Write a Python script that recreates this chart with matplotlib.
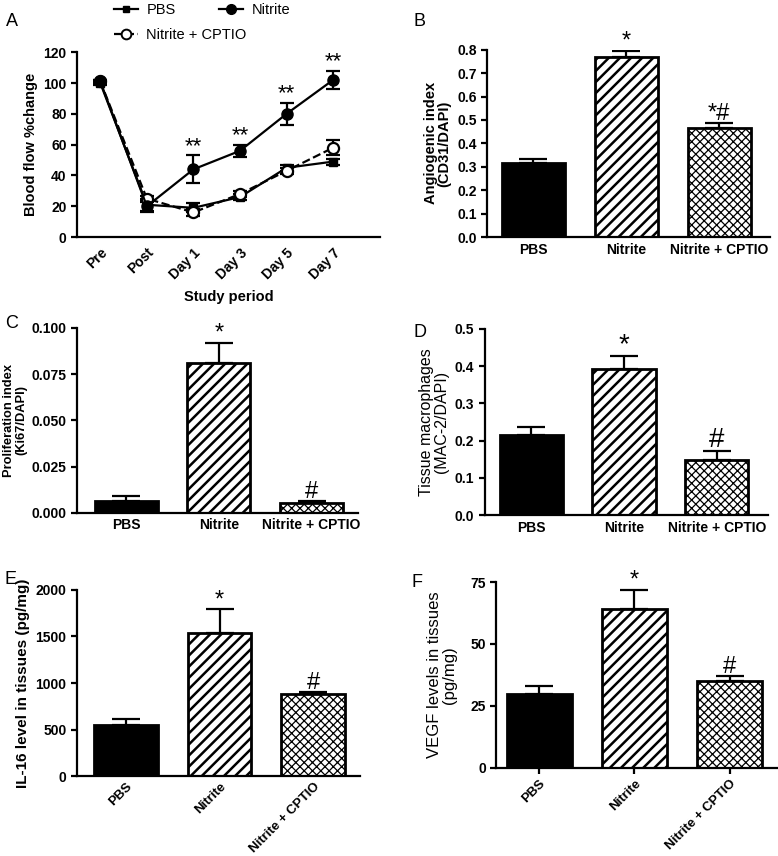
import numpy as np
import matplotlib
matplotlib.use("Agg")
import matplotlib.pyplot as plt
from matplotlib.lines import Line2D

plt.rcParams["font.family"] = ["Liberation Sans", "DejaVu Sans"]
plt.rcParams["hatch.linewidth"] = 1.6

# ---------------------------------------------------------------------------
# Data
# ---------------------------------------------------------------------------
PERIODS = ["Pre", "Post", "Day 1", "Day 3", "Day 5", "Day 7"]
PBS_FLOW = [100, 21, 19, 26, 45, 49]
PBS_FLOW_ERR = [1, 4, 3, 2, 2, 2]
NIT_FLOW = [101, 20, 44, 56, 80, 102]
NIT_FLOW_ERR = [1, 4, 9, 4, 7, 6]
CPT_FLOW = [101, 25, 16, 28, 43, 58]
CPT_FLOW_ERR = [1, 2, 2, 2, 2, 5]
FLOW_MARKS = ["", "", "**", "**", "**", "**"]

GROUPS = ["PBS", "Nitrite", "Nitrite + CPTIO"]
ANGIO = [0.315, 0.770, 0.465]
ANGIO_ERR = [0.017, 0.025, 0.022]
ANGIO_MARKS = ["", "*", "*#"]

PROLIF = [0.0065, 0.081, 0.005]
PROLIF_ERR = [0.0028, 0.011, 0.0015]
PROLIF_MARKS = ["", "*", "#"]

MACRO = [0.215, 0.392, 0.148]
MACRO_ERR = [0.021, 0.035, 0.023]
MACRO_MARKS = ["", "*", "#"]

IL16 = [550, 1540, 885]
IL16_ERR = [65, 250, 15]
IL16_MARKS = ["", "*", "#"]

VEGF = [30, 64, 35]
VEGF_ERR = [3, 8, 2]
VEGF_MARKS = ["", "*", "#"]

BAR_FACE = ["black", "white", "white"]
BAR_HATCH = [None, "///", "xxxx"]
HATCH_LW = [1.6, 1.8, 0.9]


def style_axes(ax):
    for s in ["top", "right"]:
        ax.spines[s].set_visible(False)
    for s in ["left", "bottom"]:
        ax.spines[s].set_linewidth(1.6)
    ax.tick_params(axis="y", direction="out", width=1.6, length=4, labelsize=10)
    for lab in ax.get_yticklabels():
        lab.set_fontweight("bold")


def draw_bars(ax, vals, errs, marks, ylim, yticks, fmt, ylabel, ylabel_size=10.5,
              ylabel_bold=True, labelpad=4, rotate=False, xticks=False,
              mark_size=17, xlim=(-0.5, 2.5)):
    xs = np.arange(len(vals))
    bars = ax.bar(xs, vals, width=0.68, color=BAR_FACE, edgecolor="black",
                  linewidth=2, zorder=2)
    for i, p in enumerate(bars):
        if BAR_HATCH[i]:
            p.set_hatch(BAR_HATCH[i])
            if hasattr(p, "set_hatch_linewidth"):
                p.set_hatch_linewidth(HATCH_LW[i])
    ax.errorbar(xs, vals, yerr=[np.zeros(len(vals)), errs], fmt="none",
                ecolor="black", elinewidth=1.6, capsize=10, capthick=1.6, zorder=1)
    for i, m in enumerate(marks):
        if m:
            ax.text(xs[i], vals[i] + errs[i] - (ylim[1] - ylim[0]) * 0.01, m,
                    ha="center", va="bottom", fontsize=mark_size)
    ax.set_xlim(*xlim)
    ax.set_ylim(*ylim)
    ax.set_yticks(yticks)
    ax.set_yticklabels([fmt.format(t) for t in yticks])
    ax.set_xticks(xs)
    if rotate:
        ax.set_xticklabels(GROUPS, rotation=45, ha="right", rotation_mode="anchor",
                           fontsize=9.5, fontweight="bold")
    else:
        ax.set_xticklabels(GROUPS, fontsize=10, fontweight="bold")
    ax.tick_params(axis="x", length=4 if xticks else 0, width=1.6,
                   pad=3 if rotate else 4)
    ax.set_ylabel(ylabel, fontsize=ylabel_size,
                  fontweight="bold" if ylabel_bold else "normal",
                  linespacing=1.0, labelpad=labelpad)
    style_axes(ax)


fig = plt.figure(figsize=(7.78, 8.56), dpi=100)

# ---------------------------------------------------------------------------
# A: blood flow time course
# ---------------------------------------------------------------------------
axA = fig.add_axes([0.099, 0.723, 0.389, 0.216])
xs = np.arange(len(PERIODS))
axA.errorbar(xs, PBS_FLOW, yerr=PBS_FLOW_ERR, color="black", marker="s", ms=6,
             lw=1.6, capsize=5, capthick=1.6, elinewidth=1.6)
axA.errorbar(xs, CPT_FLOW, yerr=CPT_FLOW_ERR, color="black", marker="o", ms=8,
             mfc="white", mew=1.6, lw=1.6, ls="--", capsize=5, capthick=1.6,
             elinewidth=1.6)
axA.errorbar(xs, NIT_FLOW, yerr=NIT_FLOW_ERR, color="black", marker="o", ms=8,
             lw=1.6, capsize=5, capthick=1.6, elinewidth=1.6)
for i, m in enumerate(FLOW_MARKS):
    if m:
        axA.text(xs[i], NIT_FLOW[i] + NIT_FLOW_ERR[i] - 1, m, ha="center",
                 va="bottom", fontsize=16)
axA.set_xlim(-0.5, 6.0)
axA.set_ylim(0, 120)
axA.set_yticks(range(0, 121, 20))
axA.set_xticks(xs)
axA.set_xticklabels(PERIODS, rotation=45, ha="right", rotation_mode="anchor",
                    fontsize=10, fontweight="bold")
axA.tick_params(axis="x", length=0, pad=6)
axA.set_ylabel("Blood flow %change", fontsize=10.5, fontweight="bold")
axA.set_xlabel("Study period", fontsize=10.5, fontweight="bold", labelpad=6)
style_axes(axA)

h_pbs = Line2D([], [], color="black", marker="s", ms=5, lw=1.6)
h_nit = Line2D([], [], color="black", marker="o", ms=7, lw=1.6)
h_cpt = Line2D([], [], color="black", marker="o", ms=7, mfc="white", mew=1.4,
               lw=1.6, ls="--")
leg1 = fig.legend([h_pbs, h_nit], ["PBS", "Nitrite"], ncol=2, frameon=False,
                  loc="upper left", bbox_to_anchor=(0.13, 1.012), fontsize=10.5,
                  handlelength=1.6, columnspacing=3.0, handletextpad=0.6)
fig.legend([h_cpt], ["Nitrite + CPTIO"], frameon=False, loc="upper left",
           bbox_to_anchor=(0.13, 0.983), fontsize=10.5, handlelength=1.6,
           handletextpad=0.6)

# ---------------------------------------------------------------------------
# B - F: bar panels
# ---------------------------------------------------------------------------
axB = fig.add_axes([0.626, 0.723, 0.364, 0.219])
draw_bars(axB, ANGIO, ANGIO_ERR, ANGIO_MARKS, (0, 0.8),
          np.round(np.arange(0, 0.81, 0.1), 1), "{:.1f}",
          "Angiogenic index\n(CD31/DAPI)", xlim=(-0.5, 2.55))

axC = fig.add_axes([0.099, 0.401, 0.361, 0.216])
draw_bars(axC, PROLIF, PROLIF_ERR, PROLIF_MARKS, (0, 0.1),
          [0, 0.025, 0.05, 0.075, 0.1], "{:.3f}",
          "Proliferation index\n(Ki67/DAPI)", ylabel_size=9.3, labelpad=3,
          xlim=(-0.53, 2.5))

axD = fig.add_axes([0.623, 0.398, 0.364, 0.218])
draw_bars(axD, MACRO, MACRO_ERR, MACRO_MARKS, (0, 0.5),
          [0, 0.1, 0.2, 0.3, 0.4, 0.5], "{:.1f}",
          "Tissue macrophages\n(MAC-2/DAPI)", ylabel_size=11.5, ylabel_bold=False,
          mark_size=20, xlim=(-0.5, 2.55))

axE = fig.add_axes([0.099, 0.093, 0.364, 0.218])
draw_bars(axE, IL16, IL16_ERR, IL16_MARKS, (0, 2000),
          [0, 500, 1000, 1500, 2000], "{:d}",
          "IL-16 level in tissues (pg/mg)", ylabel_size=11, rotate=True,
          xlim=(-0.52, 2.5))

axF = fig.add_axes([0.638, 0.103, 0.361, 0.217])
draw_bars(axF, VEGF, VEGF_ERR, VEGF_MARKS, (0, 75),
          [0, 25, 50, 75], "{:d}",
          "VEGF levels in tissues\n(pg/mg)", ylabel_size=12, ylabel_bold=False,
          labelpad=10, rotate=True, xticks=True, xlim=(-0.45, 2.5))

# panel letters
for lab, x, y in [("A", 0.008, 0.985), ("B", 0.532, 0.985), ("C", 0.006, 0.632),
                  ("D", 0.532, 0.622), ("E", 0.006, 0.333), ("F", 0.529, 0.330)]:
    fig.text(x, y, lab, fontsize=13, ha="left", va="top")

fig.savefig("out.png", dpi=100)
